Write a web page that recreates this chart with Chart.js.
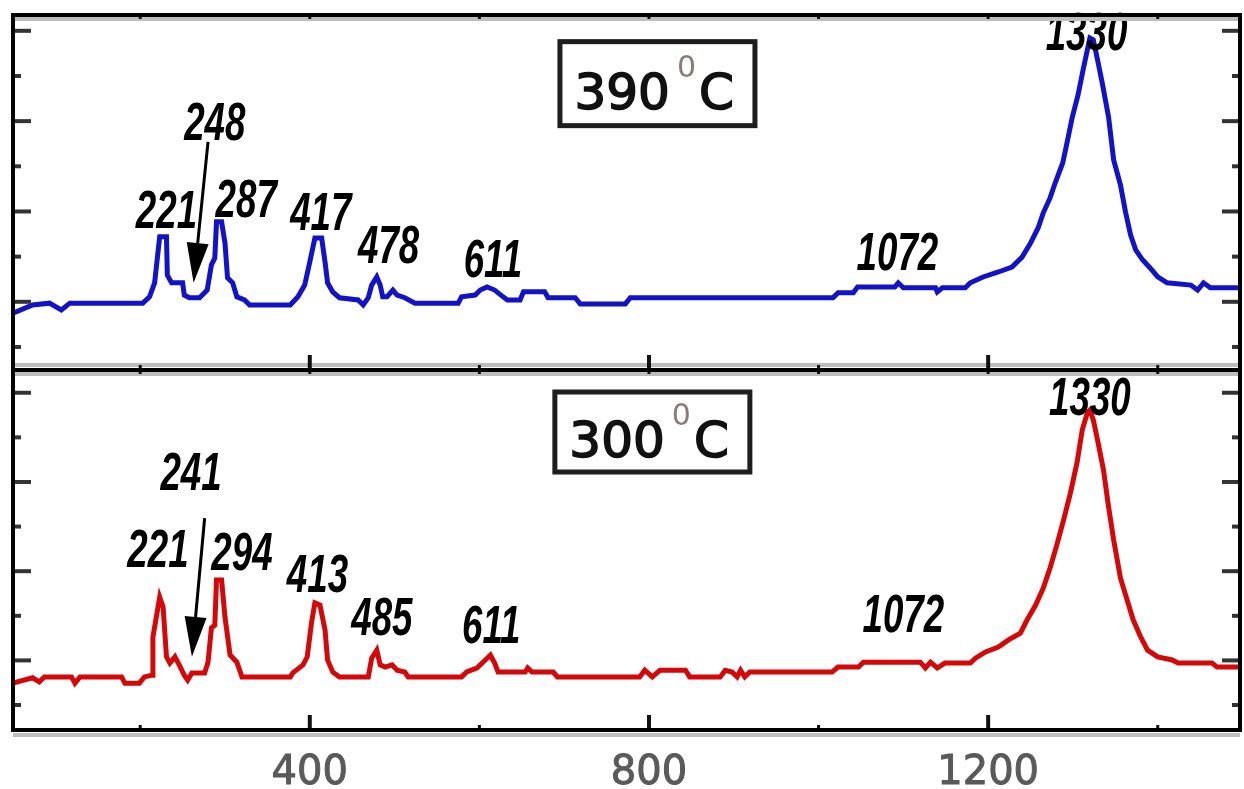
<!DOCTYPE html>
<html>
<head>
<meta charset="utf-8">
<script src="https://cdn.jsdelivr.net/npm/chart.js@4/dist/chart.umd.min.js"></script>
<style>
html, body { margin: 0; padding: 0; background: #fff; }
#wrap { position: relative; width: 1244px; height: 789px; overflow: hidden; }
.panel { position: absolute; left: 0; width: 1244px; }
#p1 { top: 0; height: 372px; }
#p2 { top: 370px; height: 419px; }
</style>
</head>
<body>
<div id="wrap">
  <div class="panel" id="p1"><canvas id="c390"></canvas></div>
  <div class="panel" id="p2"><canvas id="c300"></canvas></div>
</div>
<script>
// ==============================
// DATA (Raman shift, cm-1 / intensity, a.u.)
// ==============================
const wn390 = [50, 73, 93, 107, 117, 203, 211, 217, 223, 231,
  232, 237, 250, 252, 258, 270, 279, 284, 288, 290,
  296, 300, 303, 309, 314, 323, 329, 377, 386, 394,
  400, 406, 414, 418, 421, 427, 435, 457, 463, 469,
  473, 479, 483, 486, 491, 498, 503, 512, 524, 575,
  579, 595, 601, 609, 618, 628, 633, 648, 652, 677,
  681, 713, 719, 772, 778, 1017, 1023, 1041, 1046, 1090,
  1094, 1100, 1138, 1140, 1146, 1173, 1179, 1194, 1212, 1228,
  1240, 1250, 1259, 1265, 1273, 1279, 1288, 1293, 1299, 1306,
  1312, 1317, 1320, 1324, 1329, 1335, 1342, 1348, 1356, 1362,
  1368, 1374, 1382, 1391, 1400, 1411, 1439, 1447, 1454, 1462,
  1497];
const int390 = [0.75, 0.93, 0.97, 0.82, 0.97, 0.97, 1.11, 1.42, 2.44, 2.44,
  1.59, 1.42, 1.42, 1.15, 1.09, 1.09, 1.26, 1.82, 1.97, 2.77,
  2.77, 2.30, 1.53, 1.42, 1.11, 1.04, 0.93, 0.93, 1.11, 1.37,
  1.88, 2.41, 2.41, 1.88, 1.42, 1.22, 1.09, 1.04, 0.93, 1.09,
  1.37, 1.55, 1.37, 1.11, 1.11, 1.26, 1.15, 1.09, 0.97, 0.97,
  1.11, 1.15, 1.26, 1.33, 1.26, 1.11, 1.04, 1.04, 1.22, 1.22,
  1.09, 1.09, 0.95, 0.95, 1.09, 1.09, 1.20, 1.20, 1.33, 1.33,
  1.42, 1.31, 1.31, 1.22, 1.31, 1.31, 1.42, 1.55, 1.66, 1.77,
  1.99, 2.30, 2.64, 2.97, 3.30, 3.63, 4.08, 4.52, 5.07, 5.58,
  6.14, 6.58, 6.84, 6.80, 6.36, 5.80, 5.09, 4.14, 3.59, 2.99,
  2.48, 2.15, 1.93, 1.75, 1.55, 1.42, 1.37, 1.26, 1.42, 1.31,
  1.31];

const wn300 = [50, 73, 81, 87, 119, 123, 129, 178, 182, 199,
  205, 214, 215, 223, 227, 231, 235, 241, 246, 252,
  256, 261, 276, 280, 284, 288, 290, 296, 300, 306,
  314, 320, 377, 380, 392, 397, 402, 406, 412, 418,
  421, 427, 435, 469, 473, 479, 483, 489, 497, 503,
  512, 516, 579, 585, 597, 607, 613, 618, 622, 654,
  657, 662, 687, 692, 789, 795, 804, 813, 843, 848,
  884, 890, 898, 904, 908, 913, 919, 1016, 1023, 1047,
  1053, 1120, 1126, 1132, 1140, 1149, 1179, 1185, 1197, 1212,
  1224, 1238, 1246, 1256, 1265, 1273, 1281, 1289, 1297, 1305,
  1311, 1317, 1320, 1324, 1329, 1336, 1342, 1348, 1356, 1364,
  1371, 1380, 1388, 1400, 1417, 1424, 1464, 1470, 1497];
const int300 = [0.49, 0.61, 0.52, 0.63, 0.63, 0.49, 0.63, 0.63, 0.49, 0.49,
  0.63, 0.67, 1.52, 2.42, 2.20, 1.08, 0.94, 1.08, 0.90, 0.67,
  0.56, 0.72, 0.72, 0.96, 1.73, 1.79, 2.80, 2.80, 1.97, 1.12,
  0.96, 0.63, 0.63, 0.72, 0.90, 1.08, 1.84, 2.29, 2.24, 1.68,
  1.01, 0.74, 0.63, 0.63, 1.05, 1.23, 0.90, 0.85, 0.90, 0.78,
  0.74, 0.63, 0.63, 0.74, 0.83, 1.01, 1.12, 0.94, 0.74, 0.74,
  0.83, 0.74, 0.74, 0.63, 0.63, 0.78, 0.63, 0.78, 0.78, 0.63,
  0.63, 0.78, 0.74, 0.63, 0.78, 0.63, 0.74, 0.74, 0.85, 0.85,
  0.96, 0.96, 0.83, 0.96, 0.83, 0.94, 0.94, 1.05, 1.19, 1.30,
  1.46, 1.61, 1.91, 2.24, 2.62, 3.07, 3.59, 4.15, 4.75, 5.45,
  6.17, 6.55, 6.61, 6.39, 5.94, 5.27, 4.44, 3.70, 2.85, 2.35,
  1.91, 1.52, 1.23, 1.08, 1.01, 0.94, 0.94, 0.85, 0.85];

const xMajorTicks = [400, 800, 1200];
const xMinorTicks = [200, 600, 1000, 1400];
const yMajorTicks = [1, 3, 5, 7];
const yMinorTicks = [0, 2, 4, 6];

// peak labels (text, position of label baseline centre)
const peaks390 = ["221", "248", "287", "417", "478", "611", "1072", "1330"];
const peakX390 = [231, 288, 325, 413, 493, 616, 1093, 1316];
const peakY390 = [2.64, 4.58, 2.88, 2.59, 1.86, 1.55, 1.71, 6.58];
const peaks300 = ["241", "221", "294", "413", "485", "611", "1072", "1330"];
const peakX300 = [260, 221, 320, 409, 485, 614, 1100, 1320];
const peakY300 = [4.82, 3.09, 3.03, 2.53, 1.57, 1.39, 1.64, 6.50];

// arrows [fromX, fromY, tipX, tipY]
const arrow390 = [280, 4.54, 263, 1.42];
const arrow300 = [276, 4.19, 261, 1.08];

// temperature boxes [centreX, centreY]
const box390 = [810, 5.83];
const box300 = [804, 6.12];

// ==============================
// DECORATION PLUGIN
// ==============================
function decor(o) {
  return {
    id: 'decor',
    afterDatasetsDraw(chart) {
      const ctx = chart.ctx;
      const a = chart.chartArea;
      const x = chart.scales.x, y = chart.scales.y;
      ctx.save();

      // peak labels: bold italic condensed
      ctx.fillStyle = '#000';
      ctx.textAlign = 'center';
      ctx.textBaseline = 'alphabetic';
      ctx.font = 'italic bold 54px "Liberation Sans", Arial, sans-serif';
      o.labels.forEach((t, i) => {
        ctx.save();
        ctx.translate(x.getPixelForValue(o.lx[i]), y.getPixelForValue(o.ly[i]));
        ctx.scale(0.68, 1);
        ctx.fillText(t, 0, 0);
        ctx.restore();
      });

      // arrow
      const x0 = x.getPixelForValue(o.arrow[0]), y0 = y.getPixelForValue(o.arrow[1]);
      const x1 = x.getPixelForValue(o.arrow[2]), y1 = y.getPixelForValue(o.arrow[3]);
      const len = Math.hypot(x1 - x0, y1 - y0);
      const ux = (x1 - x0) / len, uy = (y1 - y0) / len;
      const bx = x1 - ux * 40, by = y1 - uy * 40;
      ctx.strokeStyle = '#000';
      ctx.lineWidth = 3;
      ctx.beginPath();
      ctx.moveTo(x0, y0);
      ctx.lineTo(bx, by);
      ctx.stroke();
      ctx.beginPath();
      ctx.moveTo(x1, y1);
      ctx.lineTo(bx - uy * 11, by + ux * 11);
      ctx.lineTo(bx + uy * 11, by - ux * 11);
      ctx.closePath();
      ctx.fill();

      // temperature box
      const cx = x.getPixelForValue(o.box[0]), cy = y.getPixelForValue(o.box[1]);
      const bw = 195, bh = o.boxH;
      ctx.lineWidth = 5;
      ctx.strokeStyle = '#1e1e1e';
      ctx.strokeRect(cx - bw / 2, cy - bh / 2, bw, bh);
      ctx.textAlign = 'left';
      ctx.font = '50px "DejaVu Sans", sans-serif';
      ctx.fillStyle = '#111';
      ctx.strokeStyle = '#111';
      ctx.lineWidth = 1.6;
      let tx = cx - 83;
      ctx.fillText(o.temp, tx, cy + 25);
      ctx.strokeText(o.temp, tx, cy + 25);
      tx += ctx.measureText(o.temp).width + 7;
      ctx.font = '30px "DejaVu Sans", sans-serif';
      ctx.fillStyle = '#8a7a7a';
      ctx.fillText('0', tx, cy - 7);
      tx += ctx.measureText('0').width + 3;
      ctx.font = '50px "DejaVu Sans", sans-serif';
      ctx.fillStyle = '#111';
      ctx.fillText('C', tx, cy + 25);
      ctx.strokeText('C', tx, cy + 25);

      // frame shadow
      ctx.strokeStyle = '#bdbdbd';
      ctx.lineWidth = 4;
      ctx.beginPath();
      ctx.moveTo(a.left, a.top + 4); ctx.lineTo(a.right, a.top + 4);
      ctx.moveTo(a.left, a.bottom + o.shadowBottom); ctx.lineTo(a.right, a.bottom + o.shadowBottom);
      ctx.stroke();

      // ticks
      ctx.strokeStyle = '#111';
      const tick = (x1_, y1_, x2_, y2_, w) => {
        ctx.lineWidth = w;
        ctx.beginPath(); ctx.moveTo(x1_, y1_); ctx.lineTo(x2_, y2_); ctx.stroke();
      };
      xMajorTicks.forEach(v => {
        const px = x.getPixelForValue(v);
        tick(px, a.bottom, px, a.bottom - 15, 4);
        tick(px, a.top, px, a.top + 4, 3);
      });
      xMinorTicks.forEach(v => {
        const px = x.getPixelForValue(v);
        tick(px, a.bottom, px, a.bottom - 5, 3);
        tick(px, a.top, px, a.top + 4, 3);
      });
      ctx.strokeStyle = '#333';
      yMajorTicks.forEach(v => {
        const py = y.getPixelForValue(v);
        tick(a.left, py, a.left + 18, py, 4);
        tick(a.right, py, a.right - 18, py, 4);
      });
      yMinorTicks.forEach(v => {
        const py = y.getPixelForValue(v);
        tick(a.left, py, a.left + 8, py, 4);
        tick(a.right, py, a.right - 8, py, 4);
      });

      // frame
      ctx.strokeStyle = '#000';
      ctx.lineWidth = 4;
      ctx.strokeRect(a.left, a.top, a.right - a.left, a.bottom - a.top);

      // x tick labels
      if (o.xLabels) {
        ctx.fillStyle = '#5a5a5a';
        ctx.strokeStyle = '#5a5a5a';
        ctx.lineWidth = 1;
        ctx.font = '40px "DejaVu Sans", sans-serif';
        ctx.textAlign = 'center';
        xMajorTicks.forEach(v => {
          ctx.fillText(String(v), x.getPixelForValue(v), a.bottom + 54);
          ctx.strokeText(String(v), x.getPixelForValue(v), a.bottom + 54);
        });
      }
      ctx.restore();
    }
  };
}

// ==============================
// CHARTS
// ==============================
function spectrum(id, wn, inten, color, yMin, yMax, pad, o) {
  new Chart(document.getElementById(id), {
    type: 'line',
    data: {
      datasets: [{
        data: wn.map((w, i) => ({ x: w, y: inten[i] })),
        borderColor: color,
        borderWidth: 5,
        pointRadius: 0,
        tension: 0,
        fill: false
      }]
    },
    options: {
      responsive: true,
      maintainAspectRatio: false,
      animation: false,
      layout: { padding: pad },
      plugins: { legend: { display: false }, tooltip: { enabled: false } },
      scales: {
        x: { type: 'linear', min: 50, max: 1497, display: false },
        y: { type: 'linear', min: yMin, max: yMax, display: false }
      }
    },
    plugins: [decor(o)]
  });
}

spectrum('c390', wn390, int390, '#1212c8', -0.51, 7.35,
  { left: 13, right: 4, top: 15, bottom: 2 },
  { labels: peaks390, lx: peakX390, ly: peakY390, arrow: arrow390, box: box390, boxH: 84,
    temp: '390', shadowBottom: -5, xLabels: false });

spectrum('c300', wn300, int300, '#d40808', -0.56, 7.51,
  { left: 13, right: 4, top: 0, bottom: 59 },
  { labels: peaks300, lx: peakX300, ly: peakY300, arrow: arrow300, box: box300, boxH: 80,
    temp: '300', shadowBottom: 5, xLabels: true });
</script>
</body>
</html>
